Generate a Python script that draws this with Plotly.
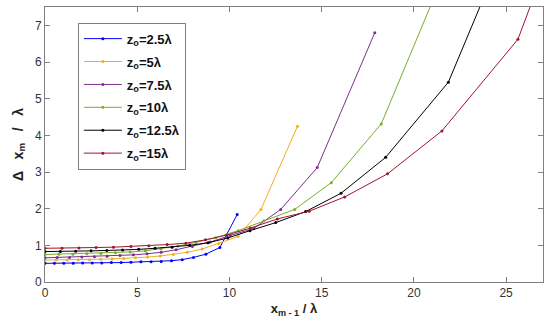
import plotly.graph_objects as go

names = ["z<sub>o</sub>=2.5λ", "z<sub>o</sub>=5λ", "z<sub>o</sub>=7.5λ",
         "z<sub>o</sub>=10λ", "z<sub>o</sub>=12.5λ", "z<sub>o</sub>=15λ"]
colors = ["#0000FF", "#EDB120", "#7E2F8E", "#77AC30", "#000000", "#A2142F"]

x_25 = [0, 0.51, 1.02, 1.53, 2.04, 2.56, 3.08, 3.60, 4.13, 4.66, 5.20, 5.75, 6.30, 6.86, 7.44, 8.05, 8.72, 9.48, 10.42]
y_25 = [0.51, 0.51, 0.51, 0.51, 0.52, 0.52, 0.52, 0.53, 0.53, 0.54, 0.55, 0.55, 0.56, 0.58, 0.61, 0.67, 0.76, 0.94, 1.84]

x_5 = [0, 0.60, 1.20, 1.80, 2.41, 3.02, 3.64, 4.27, 4.91, 5.57, 6.25, 6.96, 7.71, 8.52, 9.42, 10.47, 11.71, 13.69]
y_5 = [0.60, 0.60, 0.60, 0.61, 0.61, 0.62, 0.63, 0.64, 0.66, 0.68, 0.71, 0.75, 0.81, 0.90, 1.05, 1.24, 1.98, 4.25]

x_75 = [0, 0.66, 1.33, 2.00, 2.68, 3.37, 4.07, 4.79, 5.53, 6.30, 7.11, 7.99, 8.96, 10.05, 11.32, 12.78, 14.76, 17.88]
y_75 = [0.66, 0.67, 0.67, 0.68, 0.69, 0.70, 0.72, 0.74, 0.77, 0.81, 0.88, 0.97, 1.09, 1.27, 1.46, 1.98, 3.12, 6.80]

x_10 = [0, 0.75, 1.51, 2.27, 3.04, 3.82, 4.62, 5.44, 6.29, 7.20, 8.18, 9.26, 10.47, 11.87, 13.54, 15.52, 18.23, 22.54]
y_10 = [0.75, 0.76, 0.76, 0.77, 0.78, 0.80, 0.82, 0.85, 0.91, 0.98, 1.08, 1.21, 1.40, 1.67, 1.98, 2.71, 4.31, 9.50]

x_125 = [0, 0.83, 1.66, 2.50, 3.35, 4.21, 5.08, 5.97, 6.89, 7.84, 8.84, 9.91, 11.11, 12.51, 14.13, 16.05, 18.47, 21.87, 27.32]
y_125 = [0.83, 0.83, 0.84, 0.85, 0.86, 0.87, 0.89, 0.92, 0.95, 1.00, 1.07, 1.20, 1.40, 1.62, 1.92, 2.42, 3.40, 5.45, 12.0]

x_15 = [0, 0.92, 1.84, 2.77, 3.71, 4.66, 5.63, 6.62, 7.64, 8.70, 9.85, 11.13, 12.60, 14.32, 16.25, 18.57, 21.52, 25.64, 32.26]
y_15 = [0.92, 0.92, 0.93, 0.94, 0.95, 0.97, 0.99, 1.02, 1.06, 1.15, 1.28, 1.47, 1.72, 1.93, 2.32, 2.95, 4.12, 6.62, 15.5]

xs = [x_25, x_5, x_75, x_10, x_125, x_15]
ys = [y_25, y_5, y_75, y_10, y_125, y_15]

FONT = "Liberation Sans, Arial, sans-serif"

fig = go.Figure()
for i, (n, c, x, y) in enumerate(zip(names, colors, xs, ys)):
    fig.add_trace(go.Scatter(x=x, y=y, mode="lines+markers", name="<b>" + n + "</b>",
                             legendgroup="g%d" % i,
                             line=dict(color=c, width=1),
                             marker=dict(color=c, size=3)))

axis_common = dict(showgrid=False, zeroline=False, showline=True, linecolor="#808080",
                   linewidth=1, mirror="ticks", ticks="inside", ticklen=5,
                   tickcolor="#808080", automargin=False,
                   tickfont=dict(family=FONT, size=12, color="#333333"))

fig.update_xaxes(range=[0, 27], tickvals=[0, 5, 10, 15, 20, 25],
                 title=dict(text="<b>x<sub>m - 1</sub> / λ</b>", standoff=4,
                            font=dict(family=FONT, size=13, color="#222222")),
                 **axis_common)
fig.update_yaxes(range=[0, 7.5], tickvals=[0, 1, 2, 3, 4, 5, 6, 7],
                 title=dict(text="<b>Δ&nbsp;&nbsp;&nbsp;x<sub>m</sub>&nbsp;&nbsp;&nbsp;/&nbsp;&nbsp;&nbsp;λ</b>", standoff=8,
                            font=dict(family=FONT, size=14, color="#222222")),
                 **axis_common)

fig.update_layout(
    width=550, height=331,
    margin=dict(l=45, r=7, t=7, b=49),
    plot_bgcolor="white", paper_bgcolor="white",
    legend=dict(x=0.066, y=0.943, xanchor="left", yanchor="top",
                bgcolor="white", bordercolor="#808080", borderwidth=1,
                font=dict(family=FONT, size=13, color="#111111"),
                tracegroupgap=3, itemwidth=38),
    showlegend=True,
)

fig.write_html("out.html", config={"displayModeBar": False},
               post_script="document.body.style.margin='0';")
